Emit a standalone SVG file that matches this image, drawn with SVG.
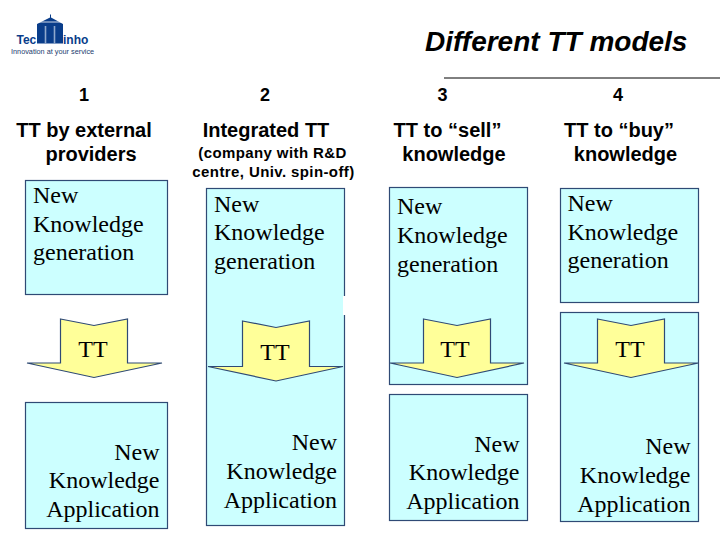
<svg xmlns="http://www.w3.org/2000/svg" width="720" height="540" viewBox="0 0 720 540">
<style>
.box{fill:#ccffff;stroke:#2f4a75;stroke-width:1.2}
.arrow{fill:#ffff99;stroke:#2f4a75;stroke-width:1.2}
.s{font-family:"Liberation Serif","Times New Roman",serif;font-size:24px;fill:#000}
.e{text-anchor:end}
.m{text-anchor:middle}
.h{font-family:"Liberation Sans",Arial,sans-serif;font-weight:700;font-size:20px;fill:#000}
.d{font-size:18px}
.sub{font-family:"Liberation Sans",Arial,sans-serif;font-weight:700;font-size:15px;letter-spacing:.4px;text-anchor:middle;fill:#000}
.lg{font-family:"Liberation Sans",Arial,sans-serif;font-weight:700;font-size:12px;fill:#0a3d8a}
</style>
<rect width="720" height="540" fill="#fff"/>
<g id="logo">
<path d="M37 43.500V24L50 17.500V14.500H51V17.500L63 24V43.500Z" fill="#0a3d8a"/>
<path d="M37 22H63" stroke="#fff" stroke-width=".8" fill="none"/>
<path d="M45.500 26V43.500M54.500 26V43.500" stroke="#8fa8cc" stroke-width="1.6" fill="none"/>
<text class="lg" x="16.500" y="44">Tec</text>
<text class="lg" x="63" y="44">inho</text>
<text x="11" y="54" font-family="'Liberation Sans',Arial,sans-serif" font-size="7.300px" fill="#22406f">Innovation at your service</text>
</g>
<g id="title">
<text x="425" y="50.500" font-family="'Liberation Sans',Arial,sans-serif" font-style="italic" font-weight="700" font-size="28px">Different TT models</text>
<line x1="444" y1="78" x2="720" y2="78" stroke="#000" stroke-width="1"/>
</g>
<g id="headers">
<text class="h d m" x="84" y="100.500">1</text>
<text class="h d m" x="265" y="100.500">2</text>
<text class="h d m" x="442.500" y="100.500">3</text>
<text class="h d m" x="618" y="100.500">4</text>
<text class="h m" x="84" y="136.500">TT by external</text>
<text class="h m" x="91" y="161">providers</text>
<text class="h m" x="266" y="136.500">Integrated TT</text>
<text class="sub" x="272.500" y="158">(company with R&amp;D</text>
<text class="sub" x="273.500" y="176.500">centre, Univ. spin-off)</text>
<text class="h m" x="447.500" y="136.500">TT to “sell”</text>
<text class="h m" x="454" y="161">knowledge</text>
<text class="h m" x="619" y="136.500">TT to “buy”</text>
<text class="h m" x="625.500" y="161">knowledge</text>
</g>
<g id="m1-generation"><rect class="box" x="25.500" y="180.500" width="142" height="114"/>
<text class="s" x="33" y="202.500">New</text><text class="s" x="33" y="231.500">Knowledge</text><text class="s" x="33" y="259.500">generation</text></g>
<g id="m1-application"><rect class="box" x="25.500" y="402.500" width="142" height="126"/>
<text class="s e" x="159.500" y="459.500">New</text><text class="s e" x="159.500" y="488">Knowledge</text><text class="s e" x="159.500" y="517">Application</text></g>
<g id="m2-block"><rect class="box" x="206.500" y="188.500" width="138" height="337"/>
<rect x="343" y="296" width="4" height="19" fill="#fff"/>
<text class="s" x="214" y="211.500">New</text><text class="s" x="214" y="240">Knowledge</text><text class="s" x="214" y="268.500">generation</text>
<text class="s e" x="337" y="450">New</text><text class="s e" x="337" y="479">Knowledge</text><text class="s e" x="337" y="508">Application</text></g>
<g id="m3-generation"><rect class="box" x="389.500" y="187.500" width="138" height="197"/>
<text class="s" x="397" y="214">New</text><text class="s" x="397" y="243">Knowledge</text><text class="s" x="397" y="272">generation</text></g>
<g id="m3-application"><rect class="box" x="389.500" y="394.500" width="138" height="126"/>
<text class="s e" x="519.500" y="451.500">New</text><text class="s e" x="519.500" y="480">Knowledge</text><text class="s e" x="519.500" y="508.500">Application</text></g>
<g id="m4-generation"><rect class="box" x="560.500" y="188.500" width="138" height="114"/>
<text class="s" x="567.500" y="211">New</text><text class="s" x="567.500" y="239.500">Knowledge</text><text class="s" x="567.500" y="267.500">generation</text></g>
<g id="m4-application"><rect class="box" x="560.500" y="312.500" width="138" height="209"/>
<text class="s e" x="690.500" y="454">New</text><text class="s e" x="690.500" y="483">Knowledge</text><text class="s e" x="690.500" y="511.500">Application</text></g>
<g id="connectors">
<g id="m1-tt"><path class="arrow" d="M60.500 319L94 325.500L127.500 319V363H162L94 377.500L27 363H60.500Z"/>
<text class="s m" x="93" y="357">TT</text></g>
<g id="m2-tt"><path class="arrow" d="M242.500 321L276 327.500L309.500 321V366.500H343L276 381L208 366.500H242.500Z"/>
<text class="s m" x="275" y="360">TT</text></g>
<g id="m3-tt"><path class="arrow" d="M423.500 319L457 325.500L490.500 319V363H524L457 377.500L390 363H423.500Z"/>
<text class="s m" x="455" y="357">TT</text></g>
<g id="m4-tt"><path class="arrow" d="M597.500 319L631 325.500L664.500 319V363H698.500L631 377.500L564 363H597.500Z"/>
<text class="s m" x="630" y="357">TT</text></g>
</g>
</svg>
